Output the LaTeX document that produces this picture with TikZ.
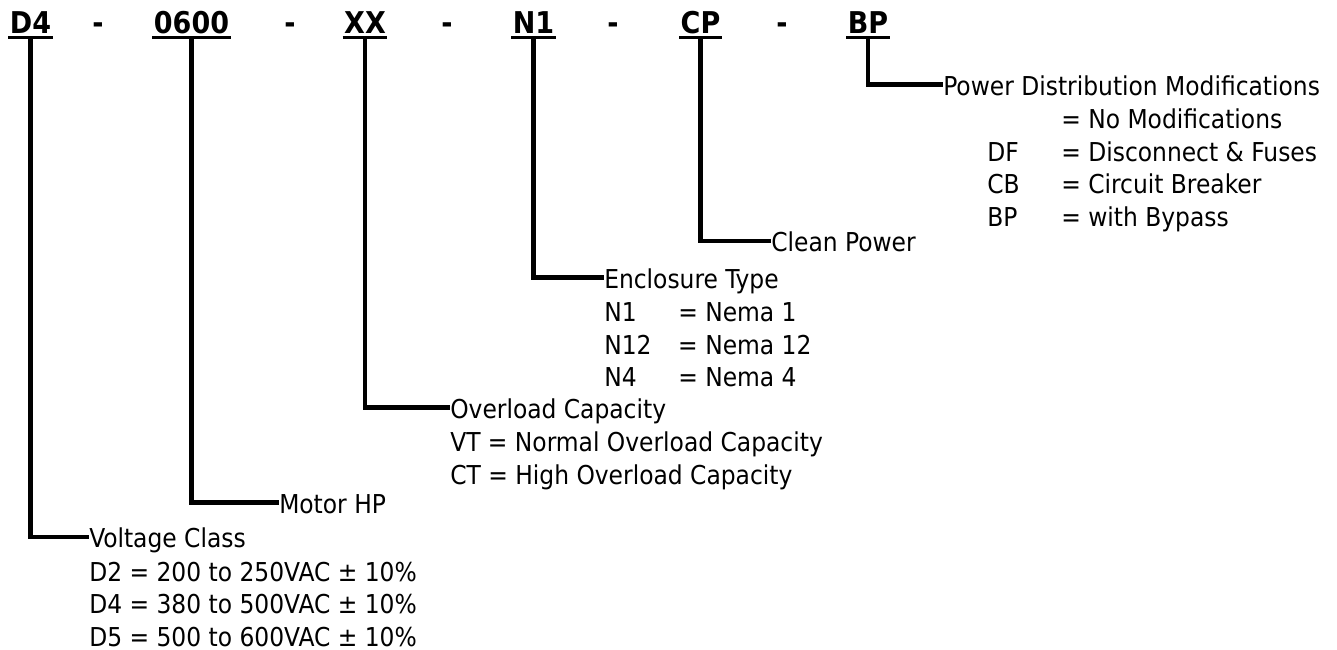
\documentclass[tikz,border=0pt]{standalone}
\usepackage{fontspec}
\setmainfont{DejaVu Sans Condensed}
\usetikzlibrary{positioning}
\tikzset{
 code/.style={font=\bfseries\fontsize{22.5}{27}\selectfont, inner xsep=1pt, inner ysep=3pt, text depth=0pt, anchor=base},
 sepmark/.style={font=\bfseries\fontsize{22.5}{27}\selectfont, inner sep=0pt, anchor=base},
 heading/.style={font=\fontsize{19.5}{24.4}\selectfont, inner sep=0pt, text height=16pt, text depth=0pt, anchor=west},
 rows/.style={font=\fontsize{19.5}{24.4}\selectfont, inner sep=0pt, anchor=base west},
 uline/.style={line width=2.5pt},
 lead/.style={line width=3.4pt, line join=miter}
}
\begin{document}
\begin{tikzpicture}[x=0.75pt,y=-0.75pt]
\useasboundingbox (0,0) rectangle (1337,649);
% model code
\node[code] (volt) at (30.5,33.3) {D4};
\node[code] (hp) at (191.5,33.3) {0600};
\node[code] (ovl) at (365,33.3) {XX};
\node[code] (encl) at (533.5,33.3) {N1};
\node[code] (clean) at (700.5,33.3) {CP};
\node[code] (pwr) at (868,33.3) {BP};
\node[sepmark] (s1) at (98,33.3) {-};
\node[sepmark] (s2) at (290,33.3) {-};
\node[sepmark] (s3) at (447,33.3) {-};
\node[sepmark] (s4) at (613,33.3) {-};
\node[sepmark] (s5) at (782,33.3) {-};
\foreach \c in {volt,hp,ovl,encl,clean,pwr} \draw[uline] (\c.south west) -- (\c.south east);
% headings
\node[heading] (voltT) at (89,537) {Voltage Class};
\node[heading] (hpT) at (279,502.5) {Motor HP};
\node[heading] (ovlT) at (450,407.5) {Overload Capacity};
\node[heading] (enclT) at (604,277.5) {Enclosure Type};
\node[heading] (cleanT) at (771,241) {Clean Power};
\node[heading] (pwrT) at (943,84.5) {Power Distribution Modifications};
% option lists
\node[rows] (voltR) at ([yshift=-25pt]voltT.base west) {\begin{tabular}[t]{@{}l@{}}
D2 = 200 to 250VAC ± 10\%\\ D4 = 380 to 500VAC ± 10\%\\ D5 = 500 to 600VAC ± 10\%\end{tabular}};
\node[rows] (ovlR) at ([yshift=-25pt]ovlT.base west) {\begin{tabular}[t]{@{}l@{}}
VT = Normal Overload Capacity\\ CT = High Overload Capacity\end{tabular}};
\node[rows] (enclR) at ([yshift=-25pt]enclT.base west) {\begin{tabular}[t]{@{}p{55.5pt}@{}l@{}}
N1 & = Nema 1\\ N12 & = Nema 12\\ N4 & = Nema 4\end{tabular}};
\node[rows] (pwrR) at ([yshift=-25pt,xshift=33pt]pwrT.base west) {\begin{tabular}[t]{@{}p{55.5pt}@{}l@{}}
 & = No Modifications\\ DF & = Disconnect \& Fuses\\ CB & = Circuit Breaker\\ BP & = with Bypass\end{tabular}};
% leaders
\draw[lead] (volt.south) |- (voltT.west);
\draw[lead] (hp.south) |- (hpT.west);
\draw[lead] (ovl.south) |- (ovlT.west);
\draw[lead] (encl.south) |- (enclT.west);
\draw[lead] (clean.south) |- (cleanT.west);
\draw[lead] (pwr.south) |- (pwrT.west);
\end{tikzpicture}
\end{document}
